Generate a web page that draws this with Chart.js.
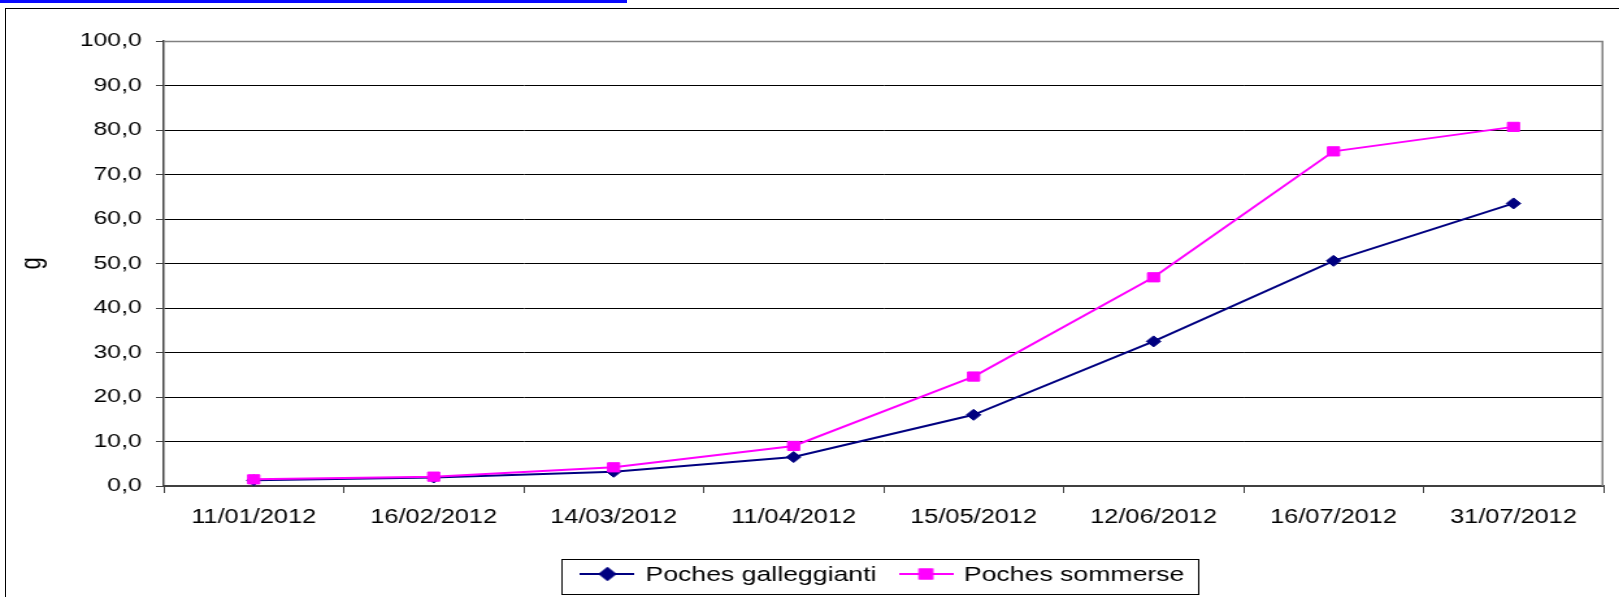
<!DOCTYPE html>
<html>
<head>
<meta charset="utf-8">
<title>Poches galleggianti / Poches sommerse</title>
<script src="https://cdn.jsdelivr.net/npm/chart.js@4.4.0/dist/chart.umd.min.js"></script>
<style>
  html, body { margin: 0; padding: 0; background: #fff; overflow: hidden; }
  body { width: 1619px; height: 597px; position: relative; }
  #topbar { position: absolute; left: 0; top: 0; width: 627px; height: 3px; background: #0a0aff; }
  #frame { position: absolute; left: 5px; top: 8px; width: 1700px; height: 700px; border: 1px solid #000; box-sizing: border-box; }
  /* the chart is laid out on a narrower canvas and widened horizontally */
  #stage { position: absolute; left: 0; top: 0; width: 1246px; height: 597px; transform: scaleX(1.2994); transform-origin: 0 0; }
</style>
</head>
<body>
<div id="topbar"></div>
<div id="frame"></div>
<div id="stage"><canvas id="chart" width="1246" height="597"></canvas></div>
<script>
// sampling dates
const dates = ['11/01/2012', '16/02/2012', '14/03/2012', '11/04/2012', '15/05/2012', '12/06/2012', '16/07/2012', '31/07/2012'];
// mean weight (g)
const galleggianti = [1.3, 1.9, 3.2, 6.5, 16.0, 32.5, 50.6, 63.5];
const sommerse = [1.5, 2.1, 4.2, 9.0, 24.6, 46.9, 75.2, 80.7];
const seriesNames = ['Poches galleggianti', 'Poches sommerse'];
const yAxisTitle = 'g';
const yMin = 0, yMax = 100, yStep = 10;

const FONT = "'Liberation Sans', Arial, sans-serif";
Chart.defaults.font.family = FONT;
Chart.defaults.font.size = 19;
Chart.defaults.color = '#000';

const NAVY = '#000080';
const MAGENTA = '#ff00ff';
const DIAMOND_R = 5.5;
const SQUARE_R = 6.5;
const LEGEND_FONT = 20.5;

// legend symbol: short line with the marker in the middle
function legendSymbol(color, style, radius) {
  const c = document.createElement('canvas');
  c.width = 42; c.height = 16;
  const ctx = c.getContext('2d');
  ctx.strokeStyle = color;
  ctx.lineWidth = 2;
  ctx.beginPath();
  ctx.moveTo(0, 7); ctx.lineTo(42, 7);
  ctx.stroke();
  ctx.fillStyle = color;
  Chart.helpers.drawPoint(ctx, { pointStyle: style, radius: radius, borderWidth: 1 }, 21, 7);
  ctx.fill();
  ctx.stroke();
  return c;
}

const PLOT_BOTTOM = 486;
const LEGEND_TEXT_Y = 575;

const frameAndLegendBox = {
  id: 'frameAndLegendBox',
  afterLayout(chart) {
    const lg = chart.legend, a = chart.chartArea;
    if (!lg) return;
    const shift = (a.left + a.right) / 2 - (lg.left + lg.right) / 2;
    lg.left += shift; lg.right += shift;
    const pad = lg.options.labels.padding;
    const h = lg.height;
    lg.top = LEGEND_TEXT_Y - pad - LEGEND_FONT / 2;
    lg.bottom = lg.top + h;
  },
  beforeDatasetsDraw(chart) {
    const { ctx, chartArea: a } = chart;
    ctx.save();
    ctx.strokeStyle = '#808080';
    ctx.lineWidth = 1.5;
    ctx.beginPath();
    ctx.moveTo(a.left, a.top + 0.5);
    ctx.lineTo(a.right, a.top + 0.5);
    ctx.moveTo(a.right - 0.75, a.top);
    ctx.lineTo(a.right - 0.75, a.bottom);
    ctx.stroke();
    ctx.restore();
  },
  afterDraw(chart) {
    const lg = chart.legend;
    if (!lg || !lg.lineWidths) return;
    const pad = lg.options.labels.padding;
    const lineW = lg.lineWidths[0];
    const start = (lg.left + pad + lg.right - lineW) / 2;
    const end = start + lineW - pad;
    const { ctx } = chart;
    ctx.save();
    ctx.strokeStyle = '#000';
    ctx.lineWidth = 1;
    ctx.strokeRect(Math.round(start - 16) + 0.5, 559.5, Math.round(end - start + 27), 35);
    ctx.restore();
  }
};

const symbols = [legendSymbol(NAVY, 'rectRot', DIAMOND_R), legendSymbol(MAGENTA, 'rect', SQUARE_R)];

new Chart(document.getElementById('chart'), {
  type: 'line',
  data: {
    labels: dates,
    datasets: [
      {
        label: seriesNames[0],
        data: galleggianti,
        borderColor: NAVY,
        backgroundColor: NAVY,
        borderWidth: 2,
        pointStyle: 'rectRot',
        pointRadius: DIAMOND_R,
        pointBorderWidth: 1,
        tension: 0,
        order: 1
      },
      {
        label: seriesNames[1],
        data: sommerse,
        borderColor: MAGENTA,
        backgroundColor: MAGENTA,
        borderWidth: 2,
        pointStyle: 'rect',
        pointRadius: SQUARE_R,
        pointBorderWidth: 1,
        tension: 0,
        order: 0
      }
    ]
  },
  options: {
    responsive: false,
    animation: false,
    events: [],
    layout: { autoPadding: false, padding: { top: 41, right: 12, bottom: 0, left: 0 } },
    plugins: {
      tooltip: { enabled: false },
      legend: {
        position: 'bottom',
        labels: {
          usePointStyle: true,
          pointStyleWidth: 38,
          padding: 19,
          font: { size: LEGEND_FONT },
          color: '#000',
          generateLabels(chart) {
            return chart.data.datasets.map((ds, i) => ({
              text: ds.label,
              fillStyle: ds.backgroundColor,
              strokeStyle: ds.borderColor,
              lineWidth: 0,
              hidden: false,
              datasetIndex: i,
              pointStyle: symbols[i],
              fontColor: '#000'
            }));
          }
        }
      }
    },
    scales: {
      x: {
        type: 'category',
        offset: true,
        grid: {
          display: true,
          offset: true,
          drawOnChartArea: false,
          drawTicks: true,
          tickLength: 7,
          color: '#404040',
          tickColor: '#404040',
          lineWidth: 1
        },
        border: { display: true, color: '#404040', width: 2 },
        ticks: { padding: 13, maxRotation: 0, autoSkip: false, color: '#000', font: { size: 19.5 } },
        afterFit(s) {
          const lh = s.chart.legend ? s.chart.legend.height : 0;
          s.height = s.chart.height - PLOT_BOTTOM - lh;
        }
      },
      y: {
        min: yMin,
        max: yMax,
        grid: { color: '#000', lineWidth: 1, tickLength: 6, tickColor: '#404040', drawTicks: true },
        border: { display: true, color: '#404040', width: 1.5 },
        ticks: {
          stepSize: yStep,
          padding: 11,
          color: '#000',
          font: { size: 19 },
          callback: v => v.toFixed(1).replace('.', ',')
        },
        title: { display: true, text: yAxisTitle, color: '#000', font: { size: 22 }, padding: { top: 11.5, bottom: 0 } },
        afterFit(s) { s.width = 126; }
      }
    }
  },
  plugins: [frameAndLegendBox]
});
</script>
</body>
</html>
